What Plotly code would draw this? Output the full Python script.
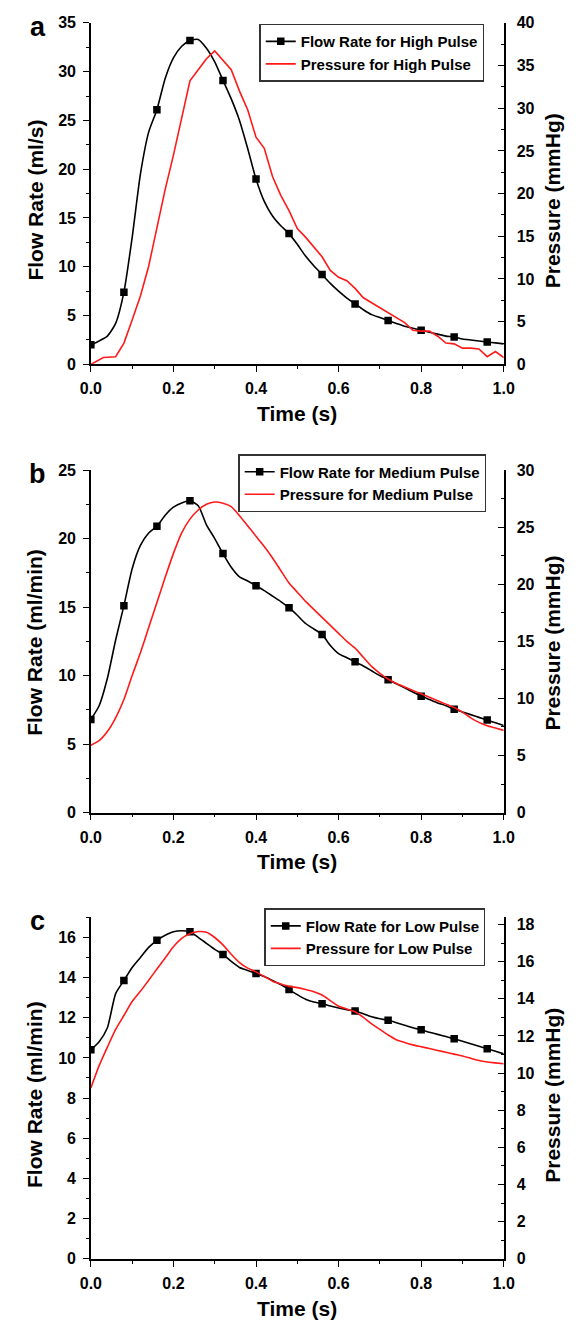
import plotly.graph_objects as go

# ---------------- data ----------------
time = [0.00, 0.02, 0.04, 0.06, 0.08, 0.10, 0.12, 0.14, 0.16, 0.18,
        0.20, 0.22, 0.24, 0.26, 0.28, 0.30, 0.32, 0.34, 0.36, 0.38,
        0.40, 0.42, 0.44, 0.46, 0.48, 0.50, 0.52, 0.54, 0.56, 0.58,
        0.60, 0.62, 0.64, 0.66, 0.68, 0.70, 0.72, 0.74, 0.76, 0.78,
        0.80, 0.82, 0.84, 0.86, 0.88, 0.90, 0.92, 0.94, 0.96, 0.98, 1.00]

# Panel a – high pulse
flow_high = [2.0, 2.4, 2.9, 4.2, 7.4, 13.0, 19.5, 23.8, 26.1, 29.3,
             31.4, 32.6, 33.2, 33.3, 32.4, 31.0, 29.1, 27.2, 25.0, 22.1,
             19.0, 16.7, 15.2, 14.2, 13.4, 12.3, 11.1, 10.1, 9.2, 8.3,
             7.5, 6.8, 6.2, 5.6, 5.1, 4.8, 4.5, 4.2, 3.9, 3.7,
             3.5, 3.3, 3.1, 2.9, 2.8, 2.6, 2.5, 2.4, 2.3, 2.2, 2.1]
press_high_time = [0.00, 0.03, 0.06, 0.08, 0.10, 0.12, 0.14, 0.16, 0.18,
                   0.20, 0.22, 0.24, 0.26, 0.28, 0.30, 0.32, 0.34, 0.36, 0.38,
                   0.40, 0.42, 0.44, 0.46, 0.48, 0.50, 0.52, 0.54, 0.56, 0.58,
                   0.60, 0.62, 0.64, 0.66, 0.68, 0.70, 0.72, 0.74, 0.76, 0.78,
                   0.80, 0.82, 0.84, 0.86, 0.88, 0.90, 0.92, 0.94, 0.96, 0.98, 1.00]
press_high = [0.0, 0.8, 0.9, 2.5, 5.2, 8.0, 11.5, 16.2, 20.5,
              24.5, 29.0, 33.2, 34.5, 35.8, 36.7, 35.6, 34.5, 32.0, 29.8,
              26.6, 25.3, 22.0, 19.8, 18.0, 15.9, 14.9, 13.8, 12.6, 11.0,
              10.2, 9.8, 8.9, 7.8, 7.2, 6.6, 6.0, 5.5, 4.9, 4.0,
              3.9, 3.9, 3.3, 2.5, 2.4, 1.9, 1.9, 1.8, 0.9, 1.5, 0.8]

# Panel b – medium pulse
flow_med = [6.8, 7.8, 9.8, 12.6, 15.1, 17.8, 19.5, 20.4, 20.9, 21.7,
            22.3, 22.6, 22.75, 22.4, 21.0, 20.0, 18.9, 17.9, 17.2, 16.9,
            16.55, 16.2, 15.8, 15.4, 14.95, 14.4, 13.8, 13.4, 13.0, 12.2,
            11.6, 11.3, 11.0, 10.7, 10.35, 10.0, 9.7, 9.4, 9.1, 8.8,
            8.5, 8.25, 8.0, 7.8, 7.55, 7.35, 7.15, 6.95, 6.75, 6.55, 6.35]
press_med = [5.9, 6.3, 7.1, 8.3, 9.9, 12.0, 14.0, 16.2, 18.4, 20.6,
             22.7, 24.5, 25.7, 26.5, 27.0, 27.2, 27.1, 26.8, 26.0, 25.1,
             24.2, 23.3, 22.3, 21.2, 20.1, 19.3, 18.5, 17.8, 17.1, 16.4,
             15.7, 15.0, 14.4, 13.6, 12.8, 12.2, 11.7, 11.3, 11.0, 10.7,
             10.4, 10.1, 9.8, 9.5, 9.2, 8.8, 8.3, 7.9, 7.6, 7.4, 7.2]

# Panel c – low pulse
flow_low = [10.4, 10.8, 11.5, 13.2, 13.85, 14.5, 15.0, 15.5, 15.85, 16.1,
            16.28, 16.33, 16.28, 16.0, 15.7, 15.4, 15.15, 14.8, 14.5, 14.35,
            14.2, 14.05, 13.85, 13.65, 13.4, 13.15, 12.92, 12.78, 12.7, 12.58,
            12.48, 12.4, 12.33, 12.2, 12.05, 11.95, 11.87, 11.75, 11.63, 11.5,
            11.4, 11.28, 11.17, 11.06, 10.95, 10.83, 10.7, 10.58, 10.46, 10.33, 10.2]
press_low = [9.2, 10.4, 11.4, 12.35, 13.1, 13.85, 14.4, 15.0, 15.6, 16.2,
             16.8, 17.25, 17.5, 17.62, 17.58, 17.3, 16.9, 16.4, 15.95, 15.65,
             15.45, 15.2, 14.95, 14.8, 14.67, 14.6, 14.5, 14.38, 14.2, 13.9,
             13.6, 13.45, 13.3, 13.0, 12.65, 12.35, 12.05, 11.8, 11.65, 11.52,
             11.42, 11.32, 11.22, 11.12, 11.02, 10.92, 10.8, 10.68, 10.6, 10.55, 10.5]

flow_names = ["Flow Rate for High Pulse", "Flow Rate for Medium Pulse", "Flow Rate for Low Pulse"]
press_names = ["Pressure for High Pulse", "Pressure for Medium Pulse", "Pressure for Low Pulse"]
flow_titles = ["Flow Rate (ml/s)", "Flow Rate (ml/min)", "Flow Rate (ml/min)"]
press_title = "Pressure (mmHg)"
panel_letters = ["a", "b", "c"]
x_ticks = [0.0, 0.2, 0.4, 0.6, 0.8, 1.0]

# ---------------- layout geometry ----------------
W, H = 584, 1332
FONT = "Liberation Sans, Arial, Helvetica, sans-serif"
x_left, x_right = 83, 512
panels = [
    dict(top=15, bottom=361, lrange=[0, 35], ldt=5, rrange=[0, 40], rdt=5, title_c=195,
         legend_right=492, legend_top=16),
    dict(top=468, bottom=815, lrange=[0, 25], ldt=5, rrange=[0, 30], rdt=5, title_c=643,
         legend_right=494, legend_top=452),
    dict(top=921, bottom=1267, lrange=[0, 17], ldt=2, rrange=[0, 18.39], rdt=2, title_c=1101,
         legend_right=493, legend_top=912),
]

def py(p):
    return 1 - p / H

fig = go.Figure()
flows = [flow_high, flow_med, flow_low]
pressures = [(press_high_time, press_high), (time, press_med), (time, press_low)]

layout = dict(
    width=W, height=H,
    margin=dict(l=0, r=0, t=0, b=0),
    paper_bgcolor="white", plot_bgcolor="white",
    font=dict(family=FONT, color="black", size=15, weight="bold"),
    showlegend=True,
    annotations=[],
)

for i, pnl in enumerate(panels):
    xa = "x" if i == 0 else f"x{i+1}"
    ya_l = f"y{2*i+1}" if i > 0 else "y"
    ya_r = f"y{2*i+2}"
    xkey = "xaxis" if i == 0 else f"xaxis{i+1}"
    ylkey = "yaxis" if i == 0 else f"yaxis{2*i+1}"
    yrkey = f"yaxis{2*i+2}"
    leg = "legend" if i == 0 else f"legend{i+1}"
    dom = [py(pnl["bottom"]), py(pnl["top"])]

    layout[xkey] = dict(
        domain=[x_left / W, x_right / W], anchor=ya_l, range=[0, 1],
        tickvals=x_ticks, tickformat=".1f",
        ticks="outside", ticklen=6, tickwidth=1.3, tickcolor="black",
        minor=dict(dtick=0.1, ticks="outside", ticklen=3, tickwidth=1.3, tickcolor="black"),
        showline=True, linecolor="black", linewidth=1.5, showgrid=False, zeroline=False,
        tickfont=dict(size=16, family=FONT, weight="bold"), ticklabelstandoff=3,
        fixedrange=True,
    )
    layout[ylkey] = dict(
        domain=dom, anchor=xa, range=pnl["lrange"], dtick=pnl["ldt"], tick0=0,
        ticks="outside", ticklen=6, tickwidth=1.3, tickcolor="black",
        minor=dict(dtick=pnl["ldt"] / 2, ticks="outside", ticklen=3, tickwidth=1.3, tickcolor="black"),
        showline=True, linecolor="black", linewidth=1.5, showgrid=False, zeroline=False,
        tickfont=dict(size=16, family=FONT, weight="bold"), ticklabelstandoff=4,
        fixedrange=True,
    )
    layout[yrkey] = dict(
        domain=dom, anchor=xa, overlaying=ya_l, side="right",
        range=pnl["rrange"], dtick=pnl["rdt"], tick0=0,
        ticks="inside", ticklen=6, tickwidth=1.3, tickcolor="black",
        minor=dict(dtick=pnl["rdt"] / 2, ticks="inside", ticklen=3, tickwidth=1.3, tickcolor="black"),
        showline=True, linecolor="black", linewidth=1.5, showgrid=False, zeroline=False,
        tickfont=dict(size=16, family=FONT, weight="bold"), ticklabelstandoff=8,
        fixedrange=True,
    )
    layout[leg] = dict(
        x=pnl["legend_right"] / W, xanchor="right", y=py(pnl["legend_top"]), yanchor="top",
        bgcolor="white", bordercolor="#333333", borderwidth=1.3,
        font=dict(size=15, family=FONT, weight="bold", color="black"),
        itemwidth=30, tracegroupgap=0,
    )

    ptime, pvals = pressures[i]
    fig.add_trace(go.Scatter(
        x=ptime, y=pvals, xaxis=xa, yaxis=ya_r, mode="lines",
        line=dict(color="#ff1a1a", width=1.6, shape="linear" if i == 0 else "spline", smoothing=0.6),
        name=press_names[i], legend=leg, legendrank=2, hoverinfo="skip",
    ))
    fig.add_trace(go.Scatter(
        x=time, y=flows[i], xaxis=xa, yaxis=ya_l, mode="lines",
        line=dict(color="black", width=1.6, shape="spline", smoothing=0.6),
        showlegend=False, hoverinfo="skip",
    ))
    fig.add_trace(go.Scatter(
        x=time[::4], y=flows[i][::4], xaxis=xa, yaxis=ya_l, mode="markers",
        marker=dict(symbol="square", size=7.5, color="black"),
        showlegend=False, hoverinfo="skip",
    ))
    fig.add_trace(go.Scatter(
        x=[None], y=[None], xaxis=xa, yaxis=ya_l, mode="lines+markers",
        line=dict(color="black", width=1.6), marker=dict(symbol="square", size=7.5, color="black"),
        name=flow_names[i], legend=leg, legendrank=1,
    ))

    mid_x = (x_left + x_right) / 2 / W
    layout["annotations"] += [
        dict(text="Time (s)", x=mid_x, y=py(pnl["bottom"] + 50), xref="paper", yref="paper",
             xanchor="center", yanchor="middle", showarrow=False,
             font=dict(size=21, family=FONT, weight="bold")),
        dict(text=flow_titles[i], x=25 / W, y=py(pnl["title_c"]), xref="paper", yref="paper",
             xanchor="center", yanchor="middle", textangle=-90, showarrow=False,
             font=dict(size=21, family=FONT, weight="bold")),
        dict(text=press_title, x=563 / W, y=py(pnl["title_c"]), xref="paper", yref="paper",
             xanchor="center", yanchor="middle", textangle=-90, showarrow=False,
             font=dict(size=21, family=FONT, weight="bold")),
        dict(text=panel_letters[i], x=28 / W, y=py(pnl["top"] + 4), xref="paper", yref="paper",
             xanchor="center", yanchor="middle", showarrow=False,
             font=dict(size=27, family=FONT, weight="bold")),
    ]

fig.update_layout(**layout)
# remove the browser's default 8px body margin so the figure fills the window exactly
fig.write_html("out.html",
               config={"displayModeBar": False, "staticPlot": False},
               post_script="document.body.style.margin='0';document.body.style.overflow='hidden';")
